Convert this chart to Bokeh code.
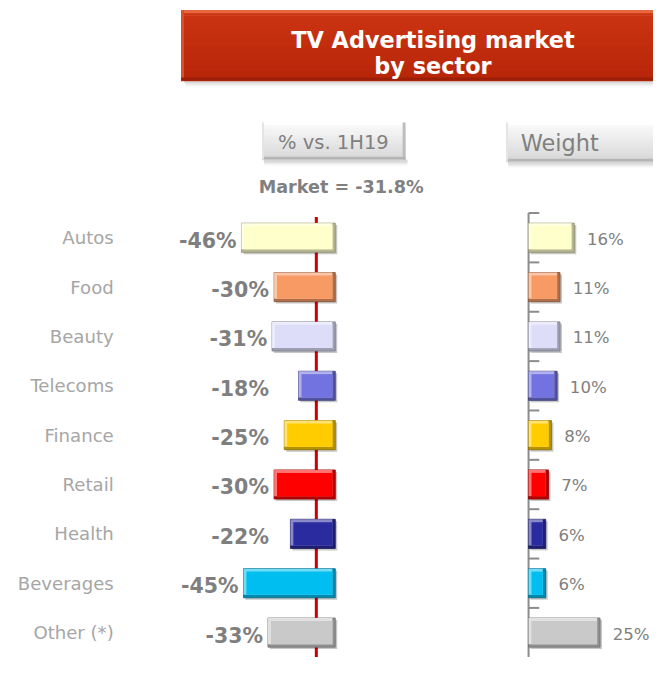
from bokeh.plotting import figure
from bokeh.models import Range1d, ColumnDataSource
from bokeh.embed import file_html
from bokeh.resources import INLINE
from bokeh.core.properties import value

# ---------------- data ----------------
sectors = ["Autos", "Food", "Beauty", "Telecoms", "Finance", "Retail",
           "Health", "Beverages", "Other (*)"]
change_pct = [-46, -30, -31, -18, -25, -30, -22, -45, -33]
weight_pct = [16, 11, 11, 10, 8, 7, 6, 6, 25]
bar_colors = ["#FFFFCC", "#F79A64", "#DDDDFA", "#7272E0", "#FFCC00",
              "#FF0000", "#2B2BA0", "#00BFF0", "#C9C9C9"]
market_change = -31.8
ref_line_pct = -9.3
title_lines = ["TV Advertising market", "by sector"]
left_header = "% vs. 1H19"
right_header = "Weight"

# ---------------- layout (reference-picture pixels, scaled to fit) ----------------
W, H = 653, 657
S = W / 669.0
X0, X1, Y0, Y1 = 0, 669, 0, 673
LZERO, LPPU = 343.0, 2.09      # left chart zero and px per %
WZERO, WPPU = 541.0, 2.93      # weight chart zero and px per %
ROW0, ROWSTEP = 243.0, 50.56   # first row centre and row pitch
BAR_H = 0.59
FONT = value("DejaVu Sans")


def fs(px):
    return "%.1fpx" % (px * S)


def mix(c, t, a):
    c = c.lstrip("#"); t = t.lstrip("#")
    r = [int(int(c[i:i + 2], 16) * (1 - a) + int(t[i:i + 2], 16) * a) for i in (0, 2, 4)]
    return "#%02x%02x%02x" % tuple(r)


p = figure(width=W, height=H, output_backend="svg", toolbar_location=None,
           x_axis_location=None, y_axis_location=None, title=None,
           min_border=0, outline_line_color=None,
           x_range=Range1d((X0 - LZERO) / LPPU, (X1 - LZERO) / LPPU),
           y_range=Range1d((Y1 - ROW0) / ROWSTEP, (Y0 - ROW0) / ROWSTEP))
p.extra_x_ranges = {"w": Range1d((X0 - WZERO) / WPPU, (X1 - WZERO) / WPPU),
                    "px": Range1d(X0, X1)}
p.extra_y_ranges = {"py": Range1d(Y1, Y0)}
p.xgrid.visible = False
p.ygrid.visible = False
p.background_fill_color = "white"
p.border_fill_color = "white"

PX = dict(x_range_name="px", y_range_name="py")


def grad_box(l, r, t, b, c_top, c_bot, n=14, **kw):
    step = (b - t) / n
    for k in range(n):
        col = mix(c_top, c_bot, k / (n - 1))
        p.quad(left=l, right=r, top=t + k * step, bottom=t + (k + 1) * step + 0.6,
               fill_color=col, line_color=None, **kw)


# ---------------- title box ----------------
for k, a in enumerate([0.10, 0.07, 0.04]):
    p.quad(left=188 + k, right=700, top=82 + k, bottom=84 + 2 * k,
           fill_color="black", fill_alpha=a, line_color=None, **PX)
grad_box(185, 700, 10, 82, "#cc3512", "#b8260a", **PX)
p.quad(left=185, right=700, top=10, bottom=13, fill_color="#e8663f", line_color=None, **PX)
p.quad(left=185, right=188, top=10, bottom=82, fill_color="#d9502c", line_color=None, **PX)
p.quad(left=185, right=700, top=79, bottom=82, fill_color="#9c1e06", line_color=None, **PX)
p.text(x=[443, 443], y=[40, 67], text=title_lines, text_font=FONT,
       text_font_size=fs(23), text_font_style="bold", text_color="white",
       text_align="center", text_baseline="alphabetic", **PX)

# ---------------- header buttons ----------------
for (l, r, t, b, label, fsz, xa, al) in [(268, 415, 125, 163, left_header, 20, 341, "center"),
                                           (518, 700, 125, 165, right_header, 23, 533, "left")]:
    for k, a in enumerate([0.12, 0.08, 0.04]):
        p.quad(left=l + 2, right=r + 2, top=b + k, bottom=b + 2 + 2 * k,
               fill_color="black", fill_alpha=a, line_color=None, **PX)
    grad_box(l, r, t, b, "#fbfbfb", "#d8d8d8", **PX)
    p.quad(left=l, right=r, top=t, bottom=t + 2, fill_color="#ffffff", line_color=None, **PX)
    p.quad(left=r - 3, right=r, top=t, bottom=b, fill_color="#bdbdbd", line_color=None, **PX)
    p.quad(left=l, right=r, top=b - 3, bottom=b, fill_color="#b5b5b5", line_color=None, **PX)
    p.quad(left=l, right=l + 2, top=t, bottom=b, fill_color="#e4e4e4", line_color=None, **PX)
    p.text(x=[xa], y=[(t + b) / 2 + 1], text=[label], text_font=FONT,
           text_font_size=fs(fsz), text_color="#808080", text_align=al,
           text_baseline="middle", **PX)

p.text(x=[349], y=[191], text=["Market = %.1f%%" % market_change], text_font=FONT,
       text_font_size=fs(18), text_font_style="bold", text_color="#808080",
       text_align="center", text_baseline="middle", **PX)

# ---------------- rows ----------------
n = len(sectors)
ys = list(range(n))

# reference line (behind bars)
p.segment(x0=[ref_line_pct], x1=[ref_line_pct], y0=[-0.42], y1=[n - 0.3],
          line_color="#cc0000", line_width=3)

# weight axis
p.segment(x0=[0], x1=[0], y0=[-0.5], y1=[n - 0.3], line_color="#8c8c8c",
          line_width=2, x_range_name="w")
p.segment(x0=[0] * n, x1=[11 / WPPU] * n, y0=[i - 0.5 for i in ys],
          y1=[i - 0.5 for i in ys], line_color="#8c8c8c", line_width=2,
          x_range_name="w")


def bevel_bars(lefts, rights, ppu, **kw):
    bx, by = 3.0 / ppu, 3.0 / ROWSTEP
    sx, sy = 2.0 / ppu, 2.0 / ROWSTEP
    src = ColumnDataSource(dict(
        l=lefts, r=rights,
        t=[i - BAR_H / 2 for i in ys], b=[i + BAR_H / 2 for i in ys],
        ls=[v + sx for v in lefts], rs=[v + sx for v in rights],
        ts=[i - BAR_H / 2 + sy for i in ys], bs=[i + BAR_H / 2 + sy for i in ys],
        lf=[v + bx for v in lefts], rf=[v - bx for v in rights],
        tf=[i - BAR_H / 2 + by for i in ys], bf=[i + BAR_H / 2 - by for i in ys],
        face=bar_colors,
        dark=[mix(c, "#000000", 0.28) for c in bar_colors],
        light=[mix(c, "#ffffff", 0.45) for c in bar_colors],
        edge=[mix(c, "#000000", 0.45) for c in bar_colors],
    ))
    p.quad(left="ls", right="rs", top="ts", bottom="bs", source=src,
           fill_color="black", fill_alpha=0.22, line_color=None, **kw)
    p.quad(left="l", right="r", top="t", bottom="b", source=src,
           fill_color="dark", line_color="edge", line_width=0.8, **kw)
    p.quad(left="l", right="rf", top="t", bottom="bf", source=src,
           fill_color="light", line_color=None, **kw)
    p.quad(left="lf", right="rf", top="tf", bottom="bf", source=src,
           fill_color="face", line_color=None, **kw)


bevel_bars(change_pct, [0] * n, LPPU)
bevel_bars([0] * n, weight_pct, WPPU, x_range_name="w")

# category labels
p.text(x=[116] * n, y=ys, text=sectors, text_font=FONT, text_font_size=fs(18.5),
       text_color="#a6a6a6", text_align="right", text_baseline="middle",
       x_range_name="px")

# change labels
cap = (275 - LZERO) / LPPU
lab_x = [min(v - 5 / LPPU, cap) for v in change_pct]
p.text(x=lab_x, y=[i + 0.06 for i in ys], text=["%d%%" % v for v in change_pct],
       text_font=FONT, text_font_size=fs(21), text_font_style="bold",
       text_color="#7f7f7f", text_align="right", text_baseline="middle")

# weight labels
p.text(x=[w + 13 / WPPU for w in weight_pct], y=[i + 0.03 for i in ys],
       text=["%d%%" % w for w in weight_pct], text_font=FONT,
       text_font_size=fs(17), text_color="#808080", text_align="left",
       text_baseline="middle", x_range_name="w")

open("out.html", "w").write(file_html(p, INLINE))
